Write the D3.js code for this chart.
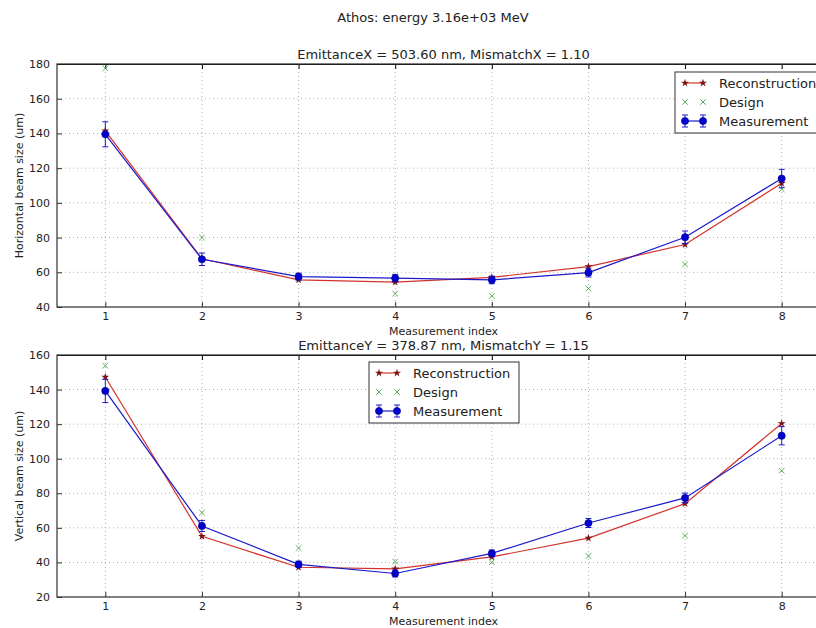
<!DOCTYPE html>
<html>
<head>
<meta charset="utf-8">
<script src="https://cdn.jsdelivr.net/npm/d3@7"></script>
<style>
  body { margin: 0; background: #fff; }
  svg { font-family: "DejaVu Sans", sans-serif; }
</style>
</head>
<body>
<div id="chart"></div>
<script>
// measurement index
let idx = [1, 2, 3, 4, 5, 6, 7, 8];
let xTicks = [1, 2, 3, 4, 5, 6, 7, 8];

// horizontal plane
let reconX = [141.5, 67.8, 55.6, 54.3, 57.1, 63.3, 76.0, 111.3];
let designX = [177.5, 80.0, 56.5, 47.7, 46.4, 50.6, 64.6, 107.8];
let measX = [139.5, 67.5, 57.5, 56.6, 55.6, 59.8, 80.2, 114.0];
let errX = [7.2, 3.6, 2.0, 2.2, 2.2, 2.5, 3.6, 5.3];
let yTicksX = [40, 60, 80, 100, 120, 140, 160, 180];

// vertical plane
let reconY = [147.3, 55.1, 37.2, 36.3, 43.2, 54.1, 74.0, 120.4];
let designY = [153.8, 68.8, 48.3, 40.5, 40.1, 43.7, 55.5, 93.0];
let measY = [139.2, 61.1, 38.9, 33.6, 45.2, 62.8, 77.3, 113.3];
let errY = [6.7, 3.2, 1.8, 2.0, 2.0, 2.6, 2.8, 5.3];
let yTicksY = [20, 40, 60, 80, 100, 120, 140, 160];

let width = 816, height = 628;
let svg = d3.select("#chart").append("svg")
  .attr("width", width)
  .attr("height", height);

svg.append("text")
  .attr("x", 433).attr("y", 22)
  .attr("text-anchor", "middle")
  .attr("font-size", "13px")
  .attr("fill", "#222")
  .text("Athos: energy 3.16e+03 MeV");

let cRed = "#d4322c", cRedDark = "#7a1414";
let cBlue = "#1a1acc", cBlueDark = "#00008b";
let cGreen = "#3a9a3a";

// small "x" marker
function drawX(g, cx, cy) {
  let s = 2.8;
  g.append("path")
    .attr("d", `M${cx - s},${cy - s}L${cx + s},${cy + s}M${cx - s},${cy + s}L${cx + s},${cy - s}`)
    .attr("stroke", cGreen).attr("stroke-width", 0.8).attr("fill", "none");
}

function panel(opt) {
  let left = 57, right = 830;
  let x = d3.scaleLinear().domain([0.5, 8.5]).range([left, right]);
  let y = d3.scaleLinear().domain(opt.yDomain).range([opt.bottom, opt.top]);

  let g = svg.append("g");

  // grid
  g.selectAll(".gx").data(xTicks).enter().append("line")
    .attr("x1", d => x(d)).attr("x2", d => x(d))
    .attr("y1", opt.top).attr("y2", opt.bottom)
    .attr("stroke", "#999").attr("stroke-width", 0.8)
    .attr("stroke-dasharray", "1,3");
  g.selectAll(".gy").data(opt.yTicks).enter().append("line")
    .attr("x1", left).attr("x2", right)
    .attr("y1", d => y(d)).attr("y2", d => y(d))
    .attr("stroke", "#999").attr("stroke-width", 0.8)
    .attr("stroke-dasharray", "1,3");

  // axes with inward ticks
  let ax = g.append("g").attr("transform", `translate(0,${opt.bottom})`)
    .call(d3.axisBottom(x).tickValues(xTicks).tickSizeInner(-5).tickSizeOuter(0).tickPadding(5));
  let ay = g.append("g").attr("transform", `translate(${left},0)`)
    .call(d3.axisLeft(y).tickValues(opt.yTicks).tickSizeInner(-5).tickSizeOuter(0).tickPadding(7));
  g.append("g").attr("transform", `translate(0,${opt.top})`)
    .call(d3.axisTop(x).tickValues(xTicks).tickSizeInner(-5).tickSizeOuter(0).tickFormat(""));
  [ax, ay].forEach(a => {
    a.select(".domain").remove();
    a.selectAll("text").attr("font-size", "11px").attr("fill", "#222")
      .attr("font-family", "DejaVu Sans, sans-serif");
    a.selectAll("line").attr("stroke", "#333");
  });

  // frame
  g.append("rect")
    .attr("x", left).attr("y", opt.top)
    .attr("width", right - left).attr("height", opt.bottom - opt.top)
    .attr("fill", "none").attr("stroke", "#333").attr("stroke-width", 1.2);

  let line = d3.line().x((d, i) => x(idx[i])).y(d => y(d));

  // reconstruction
  g.append("path").datum(opt.recon)
    .attr("d", line).attr("fill", "none")
    .attr("stroke", cRed).attr("stroke-width", 1.2);
  g.selectAll(".rs").data(opt.recon).enter().append("path")
    .attr("d", d3.symbol().type(d3.symbolStar).size(20))
    .attr("transform", (d, i) => `translate(${x(idx[i])},${y(d)})`)
    .attr("fill", cRedDark);

  // design
  opt.design.forEach((d, i) => drawX(g, x(idx[i]), y(d)));

  // measurement
  g.append("path").datum(opt.meas)
    .attr("d", line).attr("fill", "none")
    .attr("stroke", cBlue).attr("stroke-width", 1.2);
  opt.meas.forEach((d, i) => {
    let xc = x(idx[i]);
    let y1 = y(d + opt.err[i]), y2 = y(d - opt.err[i]);
    g.append("line").attr("x1", xc).attr("x2", xc).attr("y1", y1).attr("y2", y2)
      .attr("stroke", cBlue).attr("stroke-width", 1);
    [y1, y2].forEach(yy => g.append("line")
      .attr("x1", xc - 3).attr("x2", xc + 3).attr("y1", yy).attr("y2", yy)
      .attr("stroke", cBlue).attr("stroke-width", 1));
  });
  g.selectAll(".ms").data(opt.meas).enter().append("circle")
    .attr("cx", (d, i) => x(idx[i])).attr("cy", d => y(d))
    .attr("r", 3.6).attr("fill", "#0000d0").attr("stroke", cBlueDark).attr("stroke-width", 0.6);

  // titles
  svg.append("text")
    .attr("x", (left + right) / 2).attr("y", opt.top - 5)
    .attr("text-anchor", "middle").attr("font-size", "13px").attr("fill", "#222")
    .text(opt.title);
  svg.append("text")
    .attr("x", (left + right) / 2).attr("y", opt.bottom + 28)
    .attr("text-anchor", "middle").attr("font-size", "11px").attr("fill", "#222")
    .text("Measurement index");
  svg.append("text")
    .attr("transform", `translate(23,${(opt.top + opt.bottom) / 2}) rotate(-90)`)
    .attr("text-anchor", "middle").attr("font-size", "11px").attr("fill", "#222")
    .text(opt.ylabel);

  // legend
  let lg = svg.append("g").attr("transform", `translate(${opt.legX},${opt.legY})`);
  lg.append("rect").attr("width", 150).attr("height", 61)
    .attr("fill", "#fff").attr("stroke", "#333").attr("stroke-width", 1);
  let rowY = [11, 30, 49];
  // reconstruction entry
  lg.append("line").attr("x1", 10).attr("x2", 28).attr("y1", rowY[0]).attr("y2", rowY[0])
    .attr("stroke", cRed).attr("stroke-width", 1.2);
  [10, 28].forEach(px => lg.append("path")
    .attr("d", d3.symbol().type(d3.symbolStar).size(20))
    .attr("transform", `translate(${px},${rowY[0]})`).attr("fill", cRedDark));
  // design entry
  [10, 28].forEach(px => drawX(lg, px, rowY[1]));
  // measurement entry
  lg.append("line").attr("x1", 10).attr("x2", 28).attr("y1", rowY[2]).attr("y2", rowY[2])
    .attr("stroke", cBlue).attr("stroke-width", 1.2);
  [10, 28].forEach(px => {
    lg.append("line").attr("x1", px).attr("x2", px).attr("y1", rowY[2] - 6).attr("y2", rowY[2] + 6)
      .attr("stroke", cBlue);
    lg.append("line").attr("x1", px - 3).attr("x2", px + 3).attr("y1", rowY[2] - 6).attr("y2", rowY[2] - 6)
      .attr("stroke", cBlue);
    lg.append("line").attr("x1", px - 3).attr("x2", px + 3).attr("y1", rowY[2] + 6).attr("y2", rowY[2] + 6)
      .attr("stroke", cBlue);
    lg.append("circle").attr("cx", px).attr("cy", rowY[2]).attr("r", 3.6)
      .attr("fill", "#0000d0").attr("stroke", cBlueDark).attr("stroke-width", 0.6);
  });
  ["Reconstruction", "Design", "Measurement"].forEach((t, i) => {
    lg.append("text").attr("x", 44).attr("y", rowY[i] + 4.5)
      .attr("font-size", "13px").attr("fill", "#222").text(t);
  });
}

panel({
  top: 64, bottom: 307, yDomain: [40, 180], yTicks: yTicksX,
  recon: reconX, design: designX, meas: measX, err: errX,
  title: "EmittanceX = 503.60 nm, MismatchX = 1.10",
  ylabel: "Horizontal beam size (um)",
  legX: 675, legY: 72
});

panel({
  top: 355, bottom: 597, yDomain: [20, 160], yTicks: yTicksY,
  recon: reconY, design: designY, meas: measY, err: errY,
  title: "EmittanceY = 378.87 nm, MismatchY = 1.15",
  ylabel: "Vertical beam size (um)",
  legX: 369, legY: 362
});
</script>
</body>
</html>
